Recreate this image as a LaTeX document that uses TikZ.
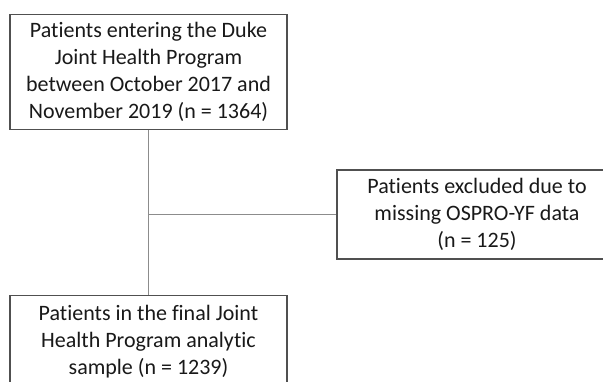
\documentclass[tikz,border=0pt]{standalone}
\usepackage{fontspec}
\setmainfont[Ligatures=NoCommon]{Carlito}
\definecolor{boxline}{RGB}{80,80,80}
\definecolor{connline}{RGB}{140,140,140}
\begin{document}
\begin{tikzpicture}[x=1pt,y=-1pt,
  flowbox/.style={draw=boxline, line width=1.1pt, fill=white, align=center, inner sep=0pt,
    font=\fontsize{22}{27}\selectfont, text=black!90},
  conn/.style={draw=connline, line width=1.1pt}]
\useasboundingbox (0,0) rectangle (603,381);
\begin{scope}
\clip (0,0) rectangle (603,381);
\node[flowbox, minimum width=277pt, minimum height=115pt] (top) at (148.5,72)
  {Patients entering the Duke\\Joint Health Program\\between October 2017 and\\November 2019 (n = 1364)};
\node[flowbox, minimum width=280pt, minimum height=89pt] (excl) at (477,214.5)
  {Patients excluded due to\\missing OSPRO-YF data\\(n = 125)};
\node[flowbox, minimum width=277pt, minimum height=110pt, anchor=north] (final) at (148.5,295)
  {\begin{minipage}[t][110pt][t]{277pt}\centering\fontsize{22}{27}\selectfont\vspace{10pt}Patients in the final Joint\\Health Program analytic\\sample (n = 1239)\end{minipage}};
\coordinate (split) at (top.south |- excl.west);
\draw[conn] (top.south) -- (final.north);
\draw[conn] (split) -- (excl.west);
\end{scope}
\end{tikzpicture}
\end{document}
